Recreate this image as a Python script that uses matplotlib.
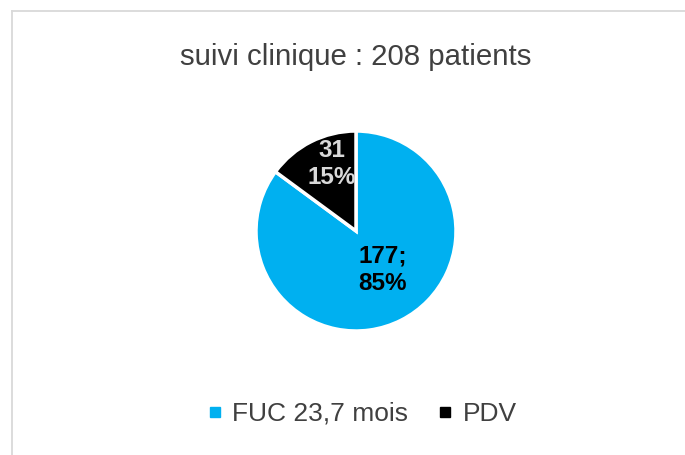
import matplotlib
matplotlib.use("Agg")
import matplotlib.pyplot as plt
from matplotlib.lines import Line2D

plt.rcParams["font.family"] = ["Liberation Sans", "DejaVu Sans"]

# data
categories = ["FUC 23,7 mois", "PDV"]
counts = [177, 31]
percents = ["85%", "15%"]
colors = ["#00B0F0", "#000000"]
title = "suivi clinique : 208 patients"

fig = plt.figure(figsize=(6.85, 4.55), dpi=100)

# light gray chart border (left + top visible)
fig.add_artist(Line2D([12.5 / 685, 12.5 / 685], [0, 1 - 10.5 / 455],
                      transform=fig.transFigure, color="#D9D9D9", lw=1.3))
fig.add_artist(Line2D([12.5 / 685, 1], [1 - 10.5 / 455, 1 - 10.5 / 455],
                      transform=fig.transFigure, color="#D9D9D9", lw=1.3))

fig.text(356 / 685, 1 - 57 / 455, title, ha="center", va="center",
         fontsize=21.2, color="#404040")

ax = fig.add_axes([256 / 685, 1 - 331 / 455, 200 / 685, 200 / 455])
wedges, _ = ax.pie(counts, colors=colors, startangle=90, counterclock=False,
                   wedgeprops=dict(edgecolor="white", linewidth=2.5))
ax.set_xlim(-1, 1)
ax.set_ylim(-1, 1)
ax.set_aspect("equal")
ax.axis("off")

# data labels
ax.text(0.27, -0.39, f"{counts[0]};\n{percents[0]}", ha="center", va="center",
        fontsize=17.5, fontweight="bold", color="#000000", linespacing=1.25)
ax.text(-0.24, 0.67, f"{counts[1]}\n{percents[1]}", ha="center", va="center",
        fontsize=17.5, fontweight="bold", color="#D9D9D9", linespacing=1.25)

handles = [Line2D([], [], marker="s", linestyle="none", markersize=7,
                  markerfacecolor=c, markeredgecolor=c) for c in colors]
fig.legend(handles, categories, loc="center", ncol=2, frameon=False,
           bbox_to_anchor=(362 / 685, 1 - 414 / 455), fontsize=19,
           labelcolor="#404040", handlelength=0.6, handletextpad=0.35,
           columnspacing=1.1)

fig.savefig("out.png", dpi=100)
